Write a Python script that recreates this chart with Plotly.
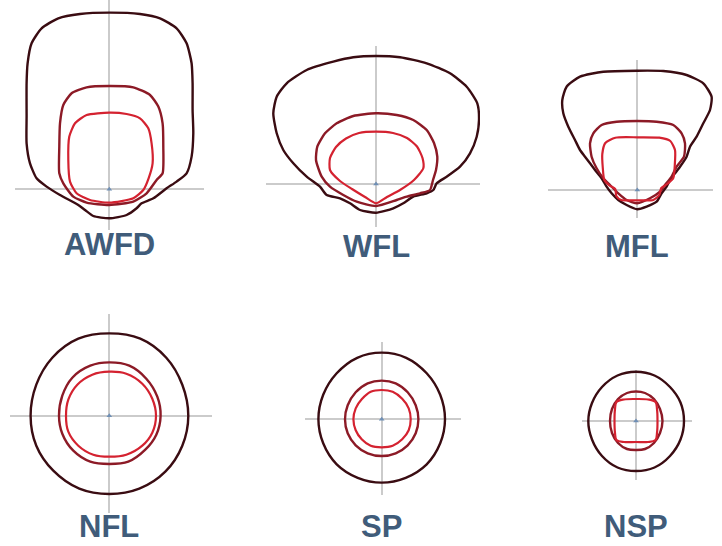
import plotly.graph_objects as go

# ---------------- data (pixel-like units, relative to each panel's centre, y up) -------------
LABELS = ["AWFD", "WFL", "MFL", "NFL", "SP", "NSP"]

AWFD_OUTER_X = [0, 30.7, 50.7, 67.3, 77.3, 82.3, 83.3, 83.3, 84, 82.3, 77.3, 67.3, 57.3, 44, 32.3, 27.3, 17.3, 0,
                -16, -24.3, -31, -49.3, -62.7, -72.7, -79.3, -82.7, -82.7, -82.7, -81.7, -77.7, -67.7, -51, -29.3]
AWFD_OUTER_Y = [176.7, 175.3, 171, 161, 146, 126, 106, 79.3, 56, 32.7, 16, 7.7, 1, -9, -14, -19, -25.7, -29,
                -26.7, -20.7, -15.7, -5.7, 2.7, 11, 26, 46, 72.7, 106, 126, 146, 161, 171, 175.3]
AWFD_MID_X = [0, 24, 40.7, 49, 53.3, 54, 53.3, 47.3, 37.3, 24, 0, -22.7, -36, -46, -50, -50, -49.3, -46, -37.7, -22.7]
AWFD_MID_Y = [103.3, 102, 94.3, 82.7, 66, 42.7, 16, 9.3, -4, -12.3, -15.7, -13.3, -7.3, 6, 16, 42.7, 66, 84.3, 96, 102]
AWFD_IN_X = [0, 17.3, 30.7, 39, 42.3, 43.3, 39.3, 34, 24, 0, -19.3, -32.7, -39.3, -41, -40, -34.3, -22.7]
AWFD_IN_Y = [76.7, 75.3, 71, 61, 46, 26, 11, -0.7, -9, -13.3, -10.7, -4, 7.7, 29.3, 52.7, 66, 74.3]

WFL_OUTER_X = [0, 24, 50.7, 74, 90.7, 101.3, 103, 100.7, 94, 84, 70.7, 60.7, 57.3, 50.7, 37.3, 27.3, 17.3, 0,
               -16, -26, -36, -49.3, -56, -69.3, -82.7, -92.7, -99.3, -102.7, -99.3, -89.3, -69.3, -42.7, -22.7]
WFL_OUTER_Y = [128, 126.7, 120.7, 110.7, 97.3, 80.7, 64, 47.3, 30.7, 17.3, 7.3, 0.7, -6, -9.3, -12.7, -19.3, -24.3,
               -28.7, -26, -19.3, -14.3, -11, -2.7, 7.3, 20.7, 34, 50.7, 70.7, 87.3, 100.7, 114, 122.3, 126.7]
WFL_MID_X = [0, 20.7, 37.3, 50.7, 58, 61.3, 60, 57, 54, 44, 30.7, 20.7, 0, -19.3, -32.7, -46, -54.3, -60, -58.7,
             -51, -39.3, -22.7]
WFL_MID_Y = [70.7, 69, 64, 54, 41, 27.3, 14, 4, -6, -9.3, -12.7, -16, -22, -17.7, -11, -2.7, 7.3, 24, 37.3,
             50.7, 60.7, 68]
WFL_IN_X = [0, 17, 31, 41, 46.5, 47.3, 38, 24, 11, 0, -11, -24, -36, -46, -46, -40, -30, -17]
WFL_IN_Y = [52.3, 51, 46, 37.5, 26, 15.7, 4, -6, -13, -19.3, -13, -5, 3, 14, 26, 37, 45.5, 51]

MFL_OUTER_X = [0, 26, 49.3, 66, 74.3, 72.7, 66, 59.3, 52.7, 49.3, 42.7, 37.7, 32.7, 29.3, 24.3, 19.3, 9.3, 0,
               -10.7, -19, -25.7, -30.7, -35.7, -42.3, -47.3, -52.3, -57.3, -62.3, -69, -74, -75, -70.7, -57.3, -34]
MFL_OUTER_Y = [119.3, 119, 115, 106.7, 93.3, 80, 66.7, 53.3, 43.3, 33.3, 23.3, 16.7, 10, 3.3, -3.3, -11.7, -16.7,
               -19.3, -15, -10, -3.3, 3.3, 11.7, 20, 26.7, 33.3, 40, 50, 63.3, 76.7, 90, 103.3, 113.3, 118.3]
MFL_MID_X = [0, 19.3, 36, 44.3, 47.7, 46.7, 39.3, 34.3, 27.7, 22.7, 12.7, 0, -10.7, -19, -27.3, -34, -40.7, -45.7,
             -47.3, -44, -35.7, -20.7]
MFL_MID_Y = [69, 68.3, 65, 56.7, 46.7, 33.3, 23.3, 13.3, 5, -1.7, -8.3, -13.3, -10, -3.3, 5, 11.7, 21.7, 33.3,
             46.7, 56.7, 65, 68.3]
MFL_IN_X = [0, 22, 33, 37.7, 37.5, 36, 30, 24, 22, 16, 0, -16, -21, -22, -28, -33, -34.5, -35, -32, -22]
MFL_IN_Y = [52.7, 52.3, 49, 40, 25, 12, 6, 2, -5, -10, -10.3, -10, -6, 1, 4.5, 10, 22, 36, 47, 52.3]

NFL_OUTER_X = [79, 73, 57, 31, 0, -31, -57, -73, -78.7, -73, -56, -30, 0, 30, 56, 73]
NFL_OUTER_Y = [0, 31, 58, 77, 82.3, 77, 58, 31, 0, -30, -55, -73, -78.3, -73, -56, -30]
NFL_MID_X = [51.3, 48, 37, 20, 0, -19, -37, -47, -50.3, -47, -36, -19, 0, 19, 36, 47]
NFL_MID_Y = [0, 19, 37, 50, 53.3, 50, 38, 20, 0, -18, -35, -46, -48.3, -46, -34, -19]
NFL_IN_X = [46.7, 43, 33, 17, 0, -17, -32, -41, -43.3, -41, -31, -16, 0, 17, 33, 43]
NFL_IN_Y = [0, 17, 32, 42, 44, 41, 31, 16, 0, -16, -30, -39, -41, -39, -30, -17]

SP_OUTER_X = [63.3, 58.5, 45, 24.5, 0, -24.5, -45, -58.5, -63.3, -58.5, -45, -24, 0, 24, 45, 58.5]
SP_OUTER_Y = [0, 24.5, 46, 61.5, 66.7, 61.5, 46, 24.5, 0, -24, -45, -58.5, -63.3, -58.5, -45, -24]
SP_MID_X = [36.7, 34, 26, 14, 0, -14, -26, -34, -36.7, -34, -26, -14, 0, 14, 26, 34]
SP_MID_Y = [0, 14, 27, 36, 38.7, 36, 27, 14, 0, -14, -26, -34, -36.7, -34, -26, -14]
SP_IN_X = [29, 27, 20.5, 11, 0, -11, -20, -26, -28.3, -26, -20, -11, 0, 11, 20.5, 27]
SP_IN_Y = [0, 11, 20.5, 27.5, 29.3, 27.5, 20, 11, 0, -11, -20, -26.5, -28, -26.5, -20, -11]

NSP_OUTER_X = [48, 44.5, 34, 18.5, 0, -18.5, -34, -44, -47.7, -44, -34, -18.5, 0, 18.5, 34, 44.5]
NSP_OUTER_Y = [0, 18.5, 34, 45.5, 49.3, 45.5, 34, 18, 0, -18.5, -35, -46.5, -50, -46.5, -35, -18.5]
NSP_MID_X = [26.5, 24, 18, 9, 0, -9, -18, -24, -26, -24, -18, -9, 0, 9, 18, 24]
NSP_MID_Y = [0, 12, 22, 28, 29.5, 28, 22, 12, 0, -12, -22, -28, -29, -28, -22, -12]
NSP_IN_X = [21.5, 21, 19.5, 12, 0, -12, -19.5, -21, -21.5, -21, -19.5, -12, 0, 12, 19.5, 21]
NSP_IN_Y = [0, 12, 19, 21.5, 22, 21.5, 19, 12, 0, -12, -19, -21, -21, -21, -19, -12]

CURVES = [
    [(AWFD_OUTER_X, AWFD_OUTER_Y), (AWFD_MID_X, AWFD_MID_Y), (AWFD_IN_X, AWFD_IN_Y)],
    [(WFL_OUTER_X, WFL_OUTER_Y), (WFL_MID_X, WFL_MID_Y), (WFL_IN_X, WFL_IN_Y)],
    [(MFL_OUTER_X, MFL_OUTER_Y), (MFL_MID_X, MFL_MID_Y), (MFL_IN_X, MFL_IN_Y)],
    [(NFL_OUTER_X, NFL_OUTER_Y), (NFL_MID_X, NFL_MID_Y), (NFL_IN_X, NFL_IN_Y)],
    [(SP_OUTER_X, SP_OUTER_Y), (SP_MID_X, SP_MID_Y), (SP_IN_X, SP_IN_Y)],
    [(NSP_OUTER_X, NSP_OUTER_Y), (NSP_MID_X, NSP_MID_Y), (NSP_IN_X, NSP_IN_Y)],
]

# ---------------- layout (pixels) ----------------
W, H = 722, 546
# centre x, centre y, crosshair left, right, top, bottom, label y, spline smoothing
PANELS = [
    (109.3, 189.3, 15, 204, 0, 230, 245, 0.6),
    (376.0, 184.0, 266, 480, 45.7, 226.7, 247, 0.6),
    (637.3, 190.0, 548, 713, 60, 218, 247, 0.6),
    (109.3, 415.7, 10, 212, 314, 513, 526, 1.0),
    (381.7, 419.3, 305, 460.7, 341.7, 495, 526, 1.0),
    (636.0, 421.0, 582.3, 691.7, 370, 480, 526, 1.0),
]
LINE_COLORS = ["#3a0c12", "#8c1a26", "#d42230"]
LINE_WIDTHS = [2.4, 2.4, 2.2]
CROSS_COLOR = "#cbcbcb"
LABEL_COLOR = "#405c7a"

fig = go.Figure()
layout = dict(width=W, height=H, autosize=False, margin=dict(l=0, r=0, t=0, b=0),
              paper_bgcolor="white", plot_bgcolor="white", showlegend=False, annotations=[])

for i, (cx, cy, hl, hr, vt, vb, ly, sm) in enumerate(PANELS):
    n = "" if i == 0 else str(i + 1)
    xa, ya = "x" + n, "y" + n
    axis_common = dict(showgrid=False, showticklabels=False, ticks="", showline=False,
                       zeroline=True, zerolinecolor=CROSS_COLOR, zerolinewidth=2, fixedrange=True)
    layout["xaxis" + n] = dict(axis_common, domain=[hl / W, hr / W], range=[hl - cx, hr - cx], anchor=ya)
    layout["yaxis" + n] = dict(axis_common, domain=[1 - vb / H, 1 - vt / H], range=[cy - vb, cy - vt], anchor=xa)
    for k, (xs, ys) in enumerate(CURVES[i]):
        fig.add_trace(go.Scatter(x=list(xs) + [xs[0]], y=list(ys) + [ys[0]], mode="lines",
                                 line=dict(color=LINE_COLORS[k], width=LINE_WIDTHS[k], shape="spline", smoothing=sm),
                                 xaxis=xa, yaxis=ya, hoverinfo="skip"))
    fig.add_trace(go.Scatter(x=[0], y=[0], mode="markers", xaxis=xa, yaxis=ya,
                             marker=dict(symbol="triangle-up", size=5, color="#6f8fb5"), hoverinfo="skip"))
    layout["annotations"].append(dict(text=LABELS[i], xref="paper", yref="paper", x=cx / W, y=1 - ly / H,
                                      xanchor="center", yanchor="middle", showarrow=False,
                                      font=dict(family="Liberation Sans", size=31, color=LABEL_COLOR, weight="bold")))

fig.update_layout(**layout)
fig.write_html("out.html", config={"displayModeBar": False},
               post_script="document.body.style.margin='0px';document.body.style.padding='0px';")
